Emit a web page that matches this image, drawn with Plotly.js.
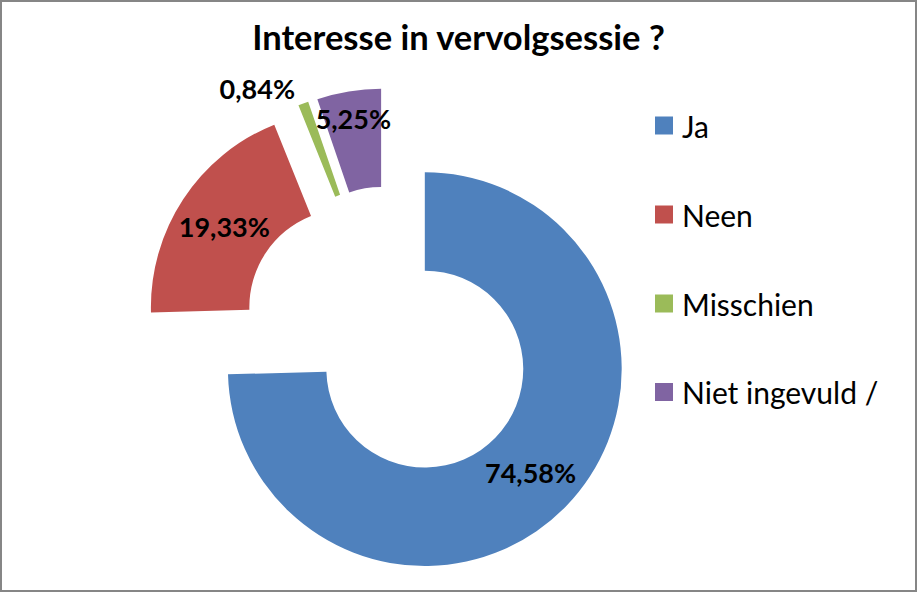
<!DOCTYPE html>
<html>
<head>
<meta charset="utf-8">
<script src="https://cdn.plot.ly/plotly-3.0.1.min.js"></script>
<style>
  html, body { margin: 0; padding: 0; background: #ffffff; }
  #wrap { position: relative; width: 917px; height: 592px; }
  #chart { width: 917px; height: 592px; }
  #frame { position: absolute; left: 0; top: 0; width: 917px; height: 592px; box-sizing: border-box;
           border: 2px solid #868686; pointer-events: none; z-index: 10; }
</style>
</head>
<body>
<div id="wrap">
  <div id="chart"></div>
  <div id="frame"></div>
</div>
<script>
// ---- data ----
const categories = ['Ja', 'Neen', 'Misschien', 'Niet ingevuld /'];
const values = [74.58, 19.33, 0.84, 5.25];
const colors = ['#4F81BD', '#C0504D', '#9BBB59', '#8064A2'];
const chartTitle = 'Interesse in vervolgsessie ?';

const total = values.reduce((a, b) => a + b, 0);
const pctLabels = values.map(v => (v / total * 100).toFixed(2).replace('.', ',') + '%');

const W = 917, H = 592;
const mT = 88, mB = 11;
const plotH = H - mT - mB;

// legend built from categories/colors (Excel-style spaced legend)
const legX0 = 655, legSize = 18, legTextX = 680;
const legY = [125.5, 214.5, 303.5, 392];
const px2x = px => px / W;
const px2y = py => (H - mB - py) / plotH;

const shapes = categories.map((c, i) => ({
  type: 'rect', xref: 'paper', yref: 'paper',
  x0: px2x(legX0), x1: px2x(legX0 + legSize),
  y0: px2y(legY[i] + legSize / 2), y1: px2y(legY[i] - legSize / 2),
  fillcolor: colors[i], line: { width: 0 }
}));
const annotations = categories.map((c, i) => ({
  text: c, xref: 'paper', yref: 'paper',
  x: px2x(legTextX), y: px2y(legY[i]),
  xanchor: 'left', yanchor: 'middle', showarrow: false,
  font: { family: 'Lato', size: 30, color: '#000000' }
}));

const trace = {
  type: 'pie',
  labels: categories,
  values: values,
  text: pctLabels,
  textinfo: 'text',
  hole: 0.5,
  pull: [0.252, 0.252, 0.252, 0.252],
  sort: false,
  direction: 'clockwise',
  rotation: 0,
  marker: { colors: colors, line: { width: 0 } },
  textposition: ['inside', 'inside', 'outside', 'inside'],
  insidetextorientation: 'horizontal',
  textfont: { family: 'Lato', size: 27, color: '#000000', weight: 700 },
  domain: { x: [0.155, 0.694], y: [0, 1] },
  showlegend: false,
  hoverinfo: 'label+percent'
};

const layout = {
  width: W, height: H,
  margin: { l: 0, r: 0, t: mT, b: mB },
  paper_bgcolor: '#ffffff',
  title: {
    text: chartTitle,
    font: { family: 'Lato', size: 34.5, color: '#000000', weight: 700 },
    x: 0.5, xanchor: 'center',
    y: 1 - 38 / H, yanchor: 'middle', yref: 'container'
  },
  uniformtext: { mode: 'show', minsize: 27 },
  showlegend: false,
  shapes: shapes,
  annotations: annotations
};

Plotly.newPlot('chart', [trace], layout, { displayModeBar: false, staticPlot: true });
</script>
</body>
</html>
